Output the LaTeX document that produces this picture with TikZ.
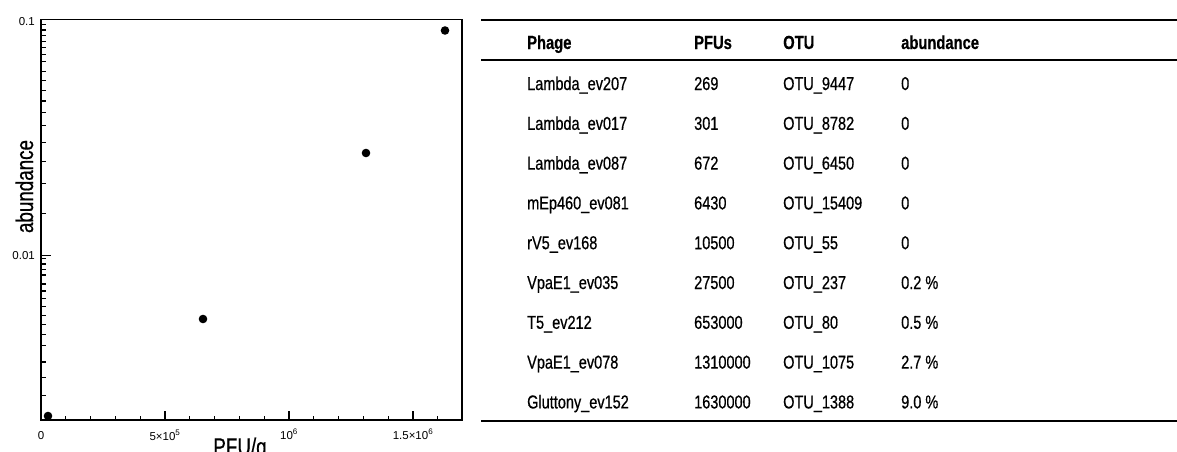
\documentclass[tikz,border=0pt]{standalone}
\usepackage{fontspec}
\setmainfont{Liberation Sans}[FakeStretch=0.78,FakeBold=0.6]
\newfontfamily\tickfont{Liberation Sans}
\begin{document}
\begin{tikzpicture}[x=1pt,y=-1pt,
  cell/.style={anchor=base west, inner sep=0pt, font=\fontsize{18.6}{22}\selectfont},
  head/.style={anchor=base west, inner sep=0pt, font=\fontsize{18.9}{22}\selectfont\bfseries},
  ticklab/.style={inner sep=0pt, font=\tickfont\fontsize{11.5}{13}\selectfont},
  axtitle/.style={inner sep=0pt, font=\fontsize{24.1}{28}\selectfont},
  tablerule/.style={line width=1.7pt},
  axisline/.style={line width=1.6pt},
  tickline/.style={line width=1.1pt},
  datadot/.style={fill=black}]
\useasboundingbox (0,0) rectangle (1177,452);
\fill[white] (0,0) rectangle (1177,452);
\begin{scope}
\clip (0,0) rectangle (1177,452);
% ---------- plot ----------
% y ticks (log axis): 0.1 at 19.7, 0.01 at 255.3
\foreach \k in {3,...,19}{
  \pgfmathsetmacro\yy{255.3-235.6*(ln(\k*0.005)/2.302585+2)}
  \draw[tickline] (41,\yy) -- (45.5,\yy);
}
\foreach \k in {5,...,19}{
  \pgfmathsetmacro\yy{255.3-235.6*(ln(\k*0.0005)/2.302585+2)}
  \draw[tickline] (41,\yy) -- (45.5,\yy);
}
\draw[tickline] (41,255.3) -- (51,255.3);
% x ticks
\foreach \k in {1,...,16}{
  \pgfmathsetmacro\xx{41+24.8*\k}
  \draw[tickline] (\xx,420) -- (\xx,415.5);
}
\foreach \k in {5,10,15}{
  \pgfmathsetmacro\xx{41+24.8*\k}
  \draw[tickline] (\xx,420) -- (\xx,411);
}
\draw[axisline] (41,19.7) rectangle (462,420);
% data
\fill[datadot] (48,416) circle (4.3);
\fill[datadot] (203,319) circle (4.3);
\fill[datadot] (366,153) circle (4.3);
\fill[datadot] (445,30.5) circle (4.3);
% tick labels
\node[ticklab, anchor=east] (ylab1) at (35,22) {0.1};
\node[ticklab, anchor=east] (ylab2) at (35,256) {0.01};
\node[ticklab, anchor=base] (xlab0) at (41,439) {0};
\node[ticklab, anchor=base] (xlab1) at (165,440) {5×10\textsuperscript{5}};
\node[ticklab, anchor=base] (xlab2) at (289,439) {10\textsuperscript{6}};
\node[ticklab, anchor=base] (xlab3) at (413,439) {1.5×10\textsuperscript{6}};
% axis titles
\node[axtitle, anchor=base] (xtitle) at (240,455) {PFU/g};
\node[axtitle, anchor=base, rotate=90] (ytitle) at (33,186.5) {abundance};
% ---------- table ----------
\draw[tablerule] (481,20) -- (1177,20);
\draw[tablerule] (481,60) -- (1177,60);
\draw[tablerule] (481,421) -- (1177,421);
\node[head] (hphage) at (527,49) {Phage};
\node[head] (hpfu) at (694,49) {PFUs};
\node[head] (hotu) at (783,49) {OTU};
\node[head] (habund) at (901,49) {abundance};
\foreach \a/\b/\c/\d [count=\i] in {
  Lambda\_ev207/269/OTU\_9447/0,
  Lambda\_ev017/301/OTU\_8782/0,
  Lambda\_ev087/672/OTU\_6450/0,
  mEp460\_ev081/6430/OTU\_15409/0,
  rV5\_ev168/10500/OTU\_55/0,
  VpaE1\_ev035/27500/OTU\_237/0.2 \%,
  T5\_ev212/653000/OTU\_80/0.5 \%,
  VpaE1\_ev078/1310000/OTU\_1075/2.7 \%,
  Gluttony\_ev152/1630000/OTU\_1388/9.0 \%}{
  \pgfmathsetmacro\by{90+39.8*(\i-1)}
  \node[cell] (p\i) at (527,\by) {\a};
  \node[cell] (f\i) at (694,\by) {\b};
  \node[cell] (o\i) at (783,\by) {\c};
  \node[cell] (ab\i) at (901,\by) {\d};
}
\end{scope}
\end{tikzpicture}
\end{document}
